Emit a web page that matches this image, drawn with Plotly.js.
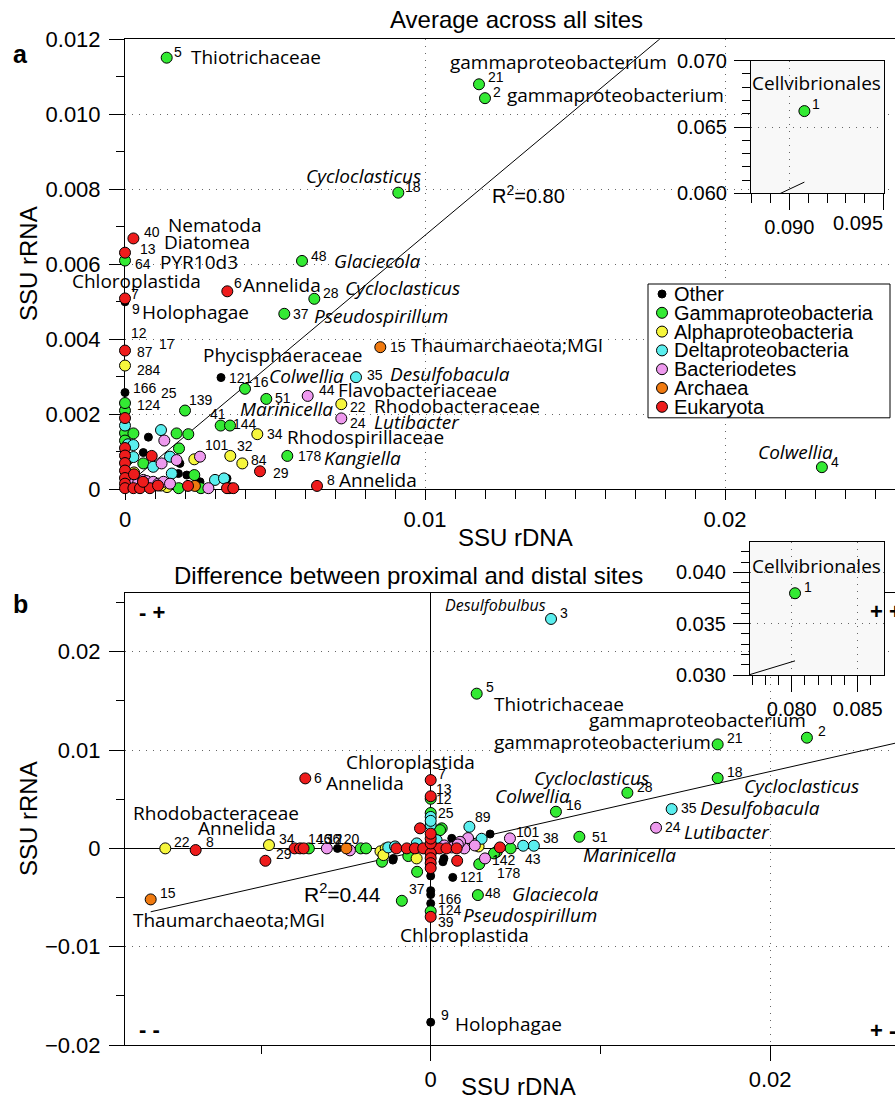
<!DOCTYPE html>
<html><head><meta charset="utf-8">
<script src="https://cdn.plot.ly/plotly-3.0.1.min.js"></script>
<style>body{margin:0;background:#fff}#chart{width:895px;height:1100px}</style>
</head><body><div id="chart"></div>
<script>
// ---------- groups ----------
const groupNames = ["Other","Gammaproteobacteria","Alphaproteobacteria","Deltaproteobacteria","Bacteriodetes","Archaea","Eukaryota"];
const groupColors = ["#000000","#33ea33","#f6f63c","#5aeeee","#ee99ee","#f07a10","#ee1c1c"];
const groupSizes = [8,11,11,11,11,11,11];

// ---------- panel a: average across all sites (id 0 = unlabeled) ----------
const aId = [1,5,21,2,18,48,28,37,6,15,121,16,35,51,44,22,24,41,144,34,101,32,84,29,178,8,139,40,13,64,7,9,87,284,166,124,4,25,
  0,0,0,0,0,0,0,0,0,0,0,0,0,
  0,0,0,0,0,0,0,0,0,0,0,0,
  0,0,0,0,0,0,0,0,
  0,0,0,0,
  0,0,0,0,0,0,
  0,0,0,0,0,0,0,
  0,0,0,0,0,0,0,0,
  0,0,0,
  0,0,0];
const aX = [0.0908,0.00139,0.0118,0.0120,0.00911,0.0059,0.00631,0.00531,0.00341,0.00851,0.0032,0.0040,0.0077,0.00471,0.00609,0.00721,0.00721,0.00319,0.0035,0.00441,0.0025,0.00351,0.00391,0.0045,0.00541,0.0064,0.0020,0.00028,0,0,0,0,0,0,0,0,0.02323,0,
  0,0,0,0,0,0,0,0,0,0,0,0.0001,0.0001,
  0.00028,0.0005,0.00083,0.0011,0.00179,0.0021,0.00233,0.00253,0.00278,0.0034,0.00347,0.00361,
  0.00028,0.00044,0.00061,0.00072,0.00094,0.00111,0.00128,0.0015,
  0.0003,0.0014,0.0012,0.00231,
  0.00061,0.0018,0.00172,0.00211,0.00028,0.00231,
  0.00078,0.00061,0.00183,0.00178,0.00206,0.0025,0.0034,
  0.0012,0.00028,0.00028,0.0015,0.00094,0.003,0.0033,0.00156,
  0.00131,0.00172,0.00122,
  0.00089,0.0003,0.0006];
const aY = [0.0662,0.01151,0.0108,0.01043,0.00791,0.00609,0.00508,0.00468,0.00528,0.00379,0.00298,0.00268,0.00299,0.00241,0.00249,0.00227,0.00189,0.0017,0.0017,0.00147,0.00087,0.00089,0.00069,0.00048,0.00089,0.00009,0.0021,0.00669,0.00631,0.0061,0.00509,0.0050,0.0037,0.0033,0.00258,0.0021,0.00059,0.0023,
  0.0019,0.0017,0.0015,0.0013,0.0011,0.0009,0.0007,0.0005,0.0003,0.00015,0.00003,0.0012,0.0008,
  0.00003,0.00003,0.00003,0.0001,0.00003,0.00009,0.00009,0.00003,0.00003,0.00003,0.00003,0.00003,
  0.0002,0.00018,0.00025,0.00022,0.0002,0.00015,0.0002,0.00015,
  0.00045,0.00006,0.0001,0.0008,
  0.00069,0.00109,0.00149,0.00147,0.00149,0.00038,
  0.00139,0.00098,0.00069,0.00042,0.00038,0.0002,0.00029,
  0.00158,0.00118,0.00086,0.00087,0.0006,0.00025,0.00029,0.00042,
  0.0013,0.00078,0.00069,
  0.00089,0.0004,0.0002];
const aG = [1,1,1,1,1,1,1,1,6,5,0,1,3,1,4,2,4,1,1,2,4,2,2,6,1,6,1,6,6,1,6,0,6,2,0,1,1,1,
  6,3,1,1,6,6,6,6,6,6,6,3,1,
  6,6,6,6,1,6,5,1,4,6,1,6,
  4,4,4,4,4,4,4,4,
  2,2,2,2,
  1,1,1,1,1,1,
  0,0,0,0,0,0,0,
  3,3,3,3,3,3,3,3,
  4,4,4,
  6,6,6];

// ---------- panel b: difference between proximal and distal sites ----------
const bId = [1,3,5,21,2,18,28,16,35,24,51,7,12,13,25,89,101,38,43,142,178,121,48,37,166,124,39,9,15,22,8,34,29,6,
  0,0,0,0,0,0,0,0,0,0,0,0,0,0,0,0,0,0,0,0,0,0,0,0,0,0,0,
  0,0,0,0,0,0,0,0,0,0,0,0,0,0,0,0,0,0,0,0,0,0,0,0,
  0,0,0,0,0,0,0,0,0,0,0,
  0,0,0];
const bX = [0.08025,0.00709,0.00271,0.01691,0.02217,0.01691,0.01159,0.00738,0.0142,0.01328,0.00876,0,0,0,0,0.00228,0.00467,0.00608,0.00545,0.0032,0.00286,0.0013,0.00278,-0.0017,0,0,0,0,-0.0165,-0.01564,-0.01385,-0.00953,-0.00974,-0.00739,
  -0.00802,-0.0077,-0.00749,-0.00718,-0.00612,-0.00549,-0.00497,-0.00476,-0.00412,-0.00381,-0.00296,-0.00265,-0.0025,-0.0021,-0.00202,-0.00141,-0.00093,-0.00044,0.00025,0.00051,0.00093,0.00124,0.00153,0.00198,0.00282,0.00408,0.00471,
  -0.00063,0.00065,0,0,0.00055,0.0022,0.003,0.0035,0.00124,0.00173,0.00035,-0.00082,0.00389,0.00373,-0.0008,-0.00223,-0.00287,0.00156,0.00072,-0.0022,-0.00083,0.00078,-0.00279,-0.00132,
  0,0,0,0,0,0,0,0,0,0,0,
  0.0008,0.0016,0.0026];
const bY = [0.03796,0.02334,0.01574,0.01058,0.01126,0.00715,0.00566,0.00373,0.0040,0.0021,0.00118,0.00695,0.00505,0.0053,0.0036,0.0022,0.00102,0.00027,0.00027,-0.00102,-0.0016,-0.00295,-0.00475,-0.00533,-0.0056,-0.0064,-0.00696,-0.01768,-0.00519,0,-0.00017,0.00034,-0.00126,0.00712,
  0,0,0,0,0,0,0,-0.0002,0,0,-0.0003,0,0.0001,0.0002,0,0,0,0,0,0,0,0.0001,0,0,0.0002,0.0001,0,
  0.00204,0.00204,0.00237,0.0032,0.00186,0.00105,0.00098,0.00146,0.00102,0.00067,0.00084,0.00051,-0.00034,-0.00051,-0.00238,-0.00119,-0.00136,-0.00126,-0.00136,-0.00102,-0.00102,-0.00102,-0.00068,-0.00078,
  -0.0005,-0.001,-0.0015,-0.002,-0.0028,-0.0043,-0.0047,0.0005,0.001,0.0015,0.0028,
  0.0003,0.0004,0.0003];
const bG = [1,3,1,1,1,1,1,1,3,4,1,6,1,6,1,3,4,3,3,4,1,0,1,1,0,1,6,0,5,2,6,2,6,6,
  6,6,6,1,4,0,5,4,1,1,2,2,3,3,6,6,6,6,6,6,6,4,6,4,2,6,1,
  6,1,3,3,1,4,3,0,0,4,3,3,1,1,1,0,1,6,0,0,2,0,2,1,
  6,6,6,6,0,0,0,6,6,6,3,
  4,4,4];

// regression fits
const aFit = {slope: 0.6692, intercept: 0.00008, r2: "0.80"};
const bFit = {slope: 0.391, intercept: 0.0, r2: "0.44"};

// tick labels
const aYTicks = [0,0.002,0.004,0.006,0.008,0.010,0.012];
const aYText = ["0","0.002","0.004","0.006","0.008","0.010","0.012"];
const aXTicks = [0,0.01,0.02];
const aXText = ["0","0.01","0.02"];
const bYTicks = [-0.02,-0.01,0,0.01,0.02];
const bYText = ["\u22120.02","\u22120.01","0","0.01","0.02"];
const bXTicks = [0,0.02];
const bXText = ["0","0.02"];
const iaXTicks = [0.090,0.095], iaXText = ["0.090",""];
const iaXEdgeLabel = "0.095";   // drawn right-aligned at the inset edge, as in the reference
const iaYTicks = [0.060,0.065,0.070], iaYText = ["0.060","0.065","0.070"];
const ibXTicks = [0.080,0.085], ibXText = ["0.080","0.085"];
const ibYTicks = [0.030,0.035,0.040], ibYText = ["0.030","0.035","0.040"];

// ---------- label layout (offsets in px from point) ----------
const aNum = [[5,'5',6,6],[21,'21',8,7],[2,'2',7,6],[18,'18',6,6],[48,'48',8,5],[28,'28',8,6],[37,'37',8,0],[6,'6',6,8],[15,'15',9,0],[121,'121',7,0],[16,'16',7,7],[35,'35',10,2],[44,'44',10,6],[22,'22',8,-3],[24,'24',8,-5],[51,'51',8,1],[41,'41',-12,12],[144,'144',2,2],[34,'34',9,0],[101,'101',4,12],[32,'32',6,10],[84,'84',8,3],[29,'29',12,-2],[178,'178',10,0],[8,'8',9,6],[139,'139',3,11],[40,'40',10,6],[13,'13',14,4],[64,'64',9,-3],[7,'7',5,4],[9,'9',6,-7],[87,'12',5,18],[87,'87',11,-1],[87,'17',33,7],[284,'284',11,-4],[166,'166',7,5],[166,'25',35,0],[124,'124',11,6],[4,'4',8,5]];
const aName = [[5,'Thiotrichaceae',0,23,1,'l'],[21,'gammaproteobacterium',0,-30,22,'l'],[2,'gammaproteobacterium',0,21,3,'l'],[18,'Cycloclasticus',1,-93,17,'l'],[48,'Glaciecola',1,31,0,'l'],[28,'Cycloclasticus',1,30,11,'l'],[37,'Pseudospirillum',1,29,-2,'l'],[6,'Annelida',0,15,6,'l'],[15,'Thaumarchaeota;MGI',0,30,2,'l'],[121,'Phycisphaeraceae',0,-19,23,'l'],[16,'Colwellia',1,23,13,'l'],[35,'Desulfobacula',1,33,3,'l'],[44,'Flavobacteriaceae',0,29,6,'l'],[22,'Rhodobacteraceae',0,32,-2,'l'],[24,'Lutibacter',1,32,-4,'l'],[51,'Marinicella',1,-27,-10,'l'],[34,'Rhodospirillaceae',0,29,-3,'l'],[178,'Kangiella',1,36,-2,'l'],[8,'Annelida',0,21,6,'l'],[40,'Nematoda',0,34,13,'l'],[13,'Diatomea',0,38,11,'l'],[64,'PYR10d3',0,34,-1,'l'],[7,'Chloroplastida',0,77,17,'r'],[9,'Holophagae',0,16,-10,'l'],[4,'Colwellia',1,-65,15,'l']];
const iaNum = [[1,'1',7,7]];
const iaName = [[1,'Cellvibrionales',0,12,28,'c']];

const bNum = [[3,'3',8,6],[5,'5',8,7],[2,'2',10,7],[21,'21',8,6],[18,'18',8,6],[28,'28',9,6],[16,'16',9,7],[35,'35',8,1],[24,'24',8,1],[51,'51',12,0],[7,'7',6,6],[13,'13',4,7],[12,'12',4,0],[25,'25',6,0],[89,'89',5,10],[101,'101',5,6],[38,'38',8,8],[43,'43',1,-13],[142,'142',6,-2],[178,'178',17,-9],[121,'121',6,0],[48,'48',6,2],[37,'37',6,12],[166,'166',6,4],[124,'124',6,1],[39,'39',6,-5],[9,'9',9,7],[15,'15',8,6],[22,'22',8,6],[8,'8',9,8],[34,'34',9,6],[29,'29',10,7],[6,'6',8,0],[34,'146',38,6],[34,'136',47,6],[34,'12',57,6],[34,'120',66,6]];
const bName = [[3,'Desulfobulbus',1,-107,14,'l',16],[5,'Thiotrichaceae',0,16,-10,'l'],[2,'gammaproteobacterium',0,0,18,'r'],[21,'gammaproteobacterium',0,-6,2,'r'],[18,'Cycloclasticus',1,25,-8,'l'],[28,'Cycloclasticus',1,-94,15,'l'],[16,'Colwellia',1,-62,16,'l'],[35,'Desulfobacula',1,27,1,'l'],[24,'Lutibacter',1,27,-4,'l'],[51,'Marinicella',1,3,-18,'l'],[7,'Chloroplastida',0,-86,18,'l'],[48,'Glaciecola',1,33,1,'l'],[124,'Pseudospirillum',1,31,-4,'l'],[39,'Chloroplastida',0,-32,-18,'l'],[9,'Holophagae',0,23,-2,'l'],[15,'Thaumarchaeota;MGI',0,-19,-21,'l'],[22,'Rhodobacteraceae',0,-33,35,'l'],[8,'Annelida',0,1,22,'l'],[6,'Annelida',0,20,-5,'l']];
const ibNum = [[1,'1',8,6]];
const ibName = [[1,'Cellvibrionales',0,21,27,'c']];

// ---------- helpers ----------
const W = 895, H = 1100;
const PX = px => px / W, PY = py => 1 - py / H;
const FAM = "Liberation Sans, Arial, sans-serif";
const TICKF = {family: FAM, size: 22, color: "#000"};
const TICKF_IN = {family: FAM, size: 20, color: "#000"};
const NUMF = {family: FAM, size: 14, color: "#000"};
const NAMEF = {family: "Open Sans, sans-serif", size: 19, color: "#000"};
const GRIDDASH = "1px,6px";

function groupTraces(X, Y, G, xa, ya, clip) {
  return groupNames.map((name, gi) => {
    const xs = [], ys = [];
    X.forEach((v, i) => { if (G[i] === gi) { xs.push(v); ys.push(Y[i]); } });
    return {type: 'scatter', mode: 'markers', x: xs, y: ys, xaxis: xa, yaxis: ya, name: name,
      cliponaxis: clip, hoverinfo: 'skip', showlegend: false,
      marker: {color: groupColors[gi], size: groupSizes[gi], line: {color: '#000', width: 1}}};
  });
}
function fitTrace(X, fit, xa, ya) {
  const x0 = Math.min(...X), x1 = Math.max(...X);
  return {type: 'scatter', mode: 'lines', x: [x0, x1], y: [fit.slope * x0 + fit.intercept, fit.slope * x1 + fit.intercept],
    xaxis: xa, yaxis: ya, line: {color: '#000', width: 1}, cliponaxis: true, hoverinfo: 'skip', showlegend: false};
}
function labelAnns(ids, X, Y, numSpec, nameSpec, xa, ya) {
  const out = [];
  const pos = id => { const i = ids.indexOf(id); return [X[i], Y[i]]; };
  numSpec.forEach(([id, txt, dx, dy]) => {
    const [x, y] = pos(id);
    out.push({xref: xa, yref: ya, x: x, y: y, xshift: dx, yshift: dy, text: txt, showarrow: false,
      xanchor: 'left', yanchor: 'middle', font: NUMF, borderpad: 0});
  });
  nameSpec.forEach(([id, txt, it, dx, dy, anc, sz]) => {
    const [x, y] = pos(id);
    out.push({xref: xa, yref: ya, x: x, y: y, xshift: dx, yshift: dy, text: it ? '<i>' + txt + '</i>' : txt,
      showarrow: false, xanchor: anc === 'r' ? 'right' : (anc === 'c' ? 'center' : 'left'), yanchor: 'middle',
      font: Object.assign({}, NAMEF, {size: sz || NAMEF.size}), borderpad: 0});
  });
  return out;
}
function paperText(text, px, py, opts) {
  return Object.assign({xref: 'paper', yref: 'paper', x: PX(px), y: PY(py), text: text, showarrow: false,
    xanchor: 'center', yanchor: 'middle', font: {family: FAM, size: 24, color: '#000'}}, opts || {});
}
function axisBase(extra) {
  return Object.assign({showline: true, linecolor: '#000', linewidth: 1, ticks: 'outside', tickcolor: '#000', tickwidth: 1,
    tickfont: TICKF, showgrid: true, gridcolor: '#666', gridwidth: 1, griddash: GRIDDASH, zeroline: false,
    tickmode: 'array', fixedrange: true}, extra);
}

// ---------- geometry ----------
const aXR = [0, (895 - 125) / 30000], aYR = [0, 0.012];
const bXR = [(125 - 430.7) / 16970, (895 - 430.7) / 16970], bYR = [-0.02, 0.02598];
const iaXR = [0.08797, 0.09502], iaYR = [0.060, 0.070];
const ibXR = [0.07684, 0.08699], ibYR = [0.030, 0.04298];

const traces = [].concat(
  [fitTrace(aX, aFit, 'x', 'y')], groupTraces(aX, aY, aG, 'x', 'y', false),
  [fitTrace(bX, bFit, 'x2', 'y2')], groupTraces(bX, bY, bG, 'x2', 'y2', false),
  [fitTrace(aX, aFit, 'x3', 'y3')], groupTraces(aX, aY, aG, 'x3', 'y3', true),
  [fitTrace(bX, bFit, 'x4', 'y4')], groupTraces(bX, bY, bG, 'x4', 'y4', true)
);

const minor1 = (dt, len) => ({tickmode: 'linear', tick0: 0, dtick: dt, ticks: 'outside', ticklen: len, tickcolor: '#000', tickwidth: 1, showgrid: false});

const layout = {
  width: W, height: H, margin: {l: 0, r: 0, t: 0, b: 0}, showlegend: false,
  paper_bgcolor: '#fff', plot_bgcolor: '#fff',
  font: {family: FAM, color: '#000'},
  xaxis: axisBase({domain: [125 / W, 1], range: aXR, anchor: 'y', mirror: true, ticklen: 10,
    tickvals: aXTicks, ticktext: aXText, minor: minor1(0.001, 9), layer: 'below traces'}),
  yaxis: axisBase({domain: [PY(489.3), PY(39.3)], range: aYR, anchor: 'x', ticklen: 15, ticklabelstandoff: 4,
    tickvals: aYTicks, ticktext: aYText, minor: minor1(0.001, 8), layer: 'below traces'}),
  xaxis2: axisBase({domain: [125 / W, 1], range: bXR, anchor: 'y2', mirror: true, ticklen: 15,
    tickvals: bXTicks, ticktext: bXText, zeroline: true, zerolinecolor: '#000', zerolinewidth: 1,
    minor: {tickmode: 'linear', tick0: -0.01, dtick: 0.02, ticks: 'outside', ticklen: 8, tickcolor: '#000', showgrid: false},
    layer: 'below traces'}),
  yaxis2: axisBase({domain: [PY(1045), PY(593)], range: bYR, anchor: 'x2', ticklen: 15, ticklabelstandoff: 4,
    tickvals: bYTicks, ticktext: bYText, zeroline: true, zerolinecolor: '#000', zerolinewidth: 1,
    minor: minor1(0.005, 8), layer: 'below traces'}),
  xaxis3: axisBase({domain: [751 / W, 884 / W], range: iaXR, anchor: 'y3', mirror: true, ticklen: 16, tickfont: TICKF_IN,
    tickvals: iaXTicks, ticktext: iaXText, minor: minor1(0.001, 9)}),
  yaxis3: axisBase({domain: [PY(193.3), PY(60.7)], range: iaYR, anchor: 'x3', mirror: true, ticklen: 16, ticklabelstandoff: 3, tickfont: TICKF_IN,
    tickvals: iaYTicks, ticktext: iaYText, minor: minor1(0.001, 8)}),
  xaxis4: axisBase({domain: [750 / W, 884 / W], range: ibXR, anchor: 'y4', mirror: true, ticklen: 16, tickfont: TICKF_IN,
    tickvals: ibXTicks, ticktext: ibXText, minor: minor1(0.001, 9)}),
  yaxis4: axisBase({domain: [PY(675), PY(541.7)], range: ibYR, anchor: 'x4', mirror: true, ticklen: 16, ticklabelstandoff: 3, tickfont: TICKF_IN,
    tickvals: ibYTicks, ticktext: ibYText, minor: minor1(0.001, 8)}),
  shapes: [],
  annotations: []
};

// inset backgrounds (cover main panel beneath them)
layout.shapes.push({type: 'rect', xref: 'x3', yref: 'y3', x0: iaXR[0], x1: iaXR[1], y0: iaYR[0], y1: iaYR[1],
  fillcolor: '#f8f8f8', line: {width: 0}, layer: 'below'});
layout.shapes.push({type: 'rect', xref: 'x4', yref: 'y4', x0: ibXR[0], x1: ibXR[1], y0: ibYR[0], y1: ibYR[1],
  fillcolor: '#f8f8f8', line: {width: 0}, layer: 'below'});

// inset a: last x tick label, right-aligned at the inset edge
layout.annotations.push({xref: 'x3', yref: 'y3', x: iaXTicks[1], y: iaYR[0], yshift: -30, text: iaXEdgeLabel,
  showarrow: false, xanchor: 'right', yanchor: 'middle', font: TICKF_IN, borderpad: 0});

// legend (drawn manually to match compact spacing)
const LG = {left: 648, right: 890, top: 284, row: 18.8, first: 294, cx: 662, tx: 672};
const lgBottom = LG.first + LG.row * (groupNames.length - 1) + 11;
layout.shapes.push({type: 'rect', xref: 'paper', yref: 'paper', x0: PX(LG.left), x1: PX(LG.right), y0: PY(lgBottom), y1: PY(LG.top),
  fillcolor: '#fff', line: {color: '#000', width: 1}, layer: 'above'});
groupNames.forEach((name, gi) => {
  const cy = LG.first + gi * LG.row, r = groupSizes[gi] / 2;
  layout.shapes.push({type: 'circle', xref: 'paper', yref: 'paper', x0: PX(LG.cx - r), x1: PX(LG.cx + r), y0: PY(cy + r), y1: PY(cy - r),
    fillcolor: groupColors[gi], line: {color: '#000', width: 1}, layer: 'above'});
  layout.annotations.push(paperText(name, LG.tx, cy, {xanchor: 'left', font: {family: FAM, size: 20, color: '#000'}}));
});

// point labels
layout.annotations.push(...labelAnns(aId, aX, aY, aNum, aName, 'x', 'y'));
layout.annotations.push(...labelAnns(aId, aX, aY, iaNum, iaName, 'x3', 'y3'));
layout.annotations.push(...labelAnns(bId, bX, bY, bNum, bName, 'x2', 'y2'));
layout.annotations.push(...labelAnns(bId, bX, bY, ibNum, ibName, 'x4', 'y4'));

// titles, axis titles, panel letters, R², quadrants
layout.annotations.push(
  paperText('Average across all sites', 516, 19),
  paperText('Difference between proximal and distal sites', 408, 575),
  paperText('<b>a</b>', 20, 54, {font: {family: FAM, size: 25, color: '#000'}}),
  paperText('<b>b</b>', 20, 604, {font: {family: FAM, size: 25, color: '#000'}}),
  paperText('SSU rRNA', 28, 264, {textangle: -90}),
  paperText('SSU rRNA', 28, 819, {textangle: -90}),
  paperText('SSU rDNA', 515, 537),
  paperText('SSU rDNA', 518, 1086),
  paperText('R<sup>2</sup>=' + aFit.r2, 490, 195, {xanchor: 'left', font: {family: FAM, size: 20, color: '#000'}}),
  paperText('R<sup>2</sup>=' + bFit.r2, 302, 893, {xanchor: 'left', font: {family: FAM, size: 21, color: '#000'}}),
  paperText('<b>- +</b>', 137, 612, {xanchor: 'left', font: {family: FAM, size: 22, color: '#000'}}),
  paperText('<b>- -</b>', 137, 1029, {xanchor: 'left', font: {family: FAM, size: 22, color: '#000'}}),
  paperText('<b>+ +</b>', 868, 611, {xanchor: 'left', font: {family: FAM, size: 22, color: '#000'}}),
  paperText('<b>+ -</b>', 868, 1030, {xanchor: 'left', font: {family: FAM, size: 22, color: '#000'}})
);

Plotly.newPlot('chart', traces, layout, {staticPlot: true, displayModeBar: false});
</script>
</body></html>
